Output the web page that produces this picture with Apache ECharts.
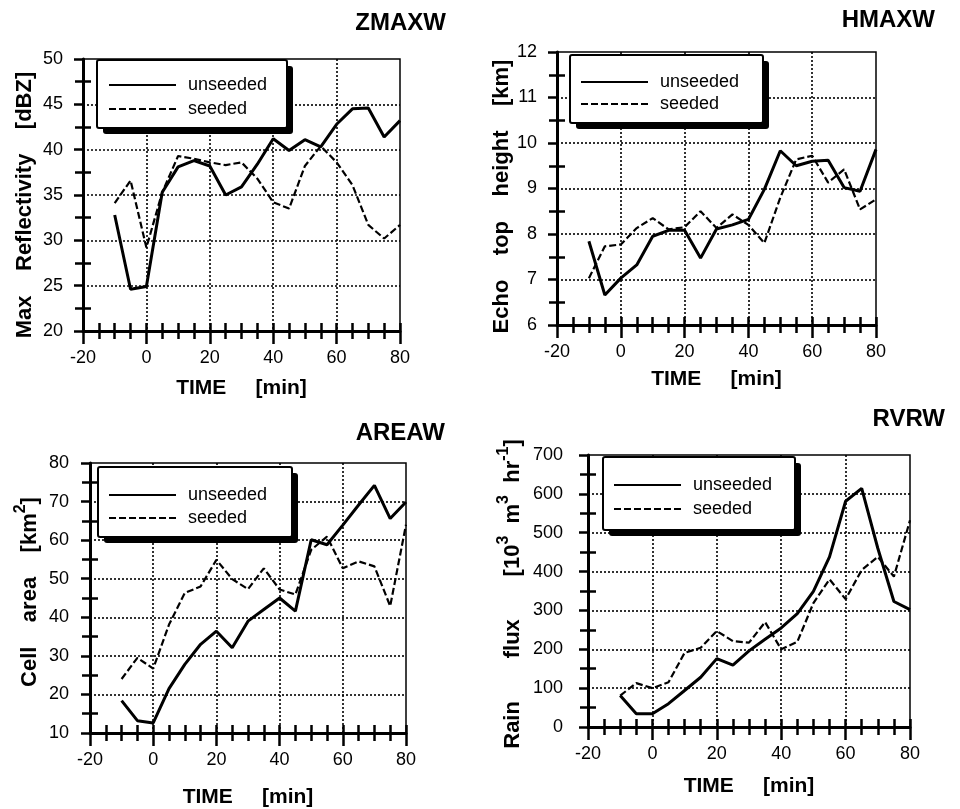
<!DOCTYPE html>
<html>
<head>
<meta charset="utf-8">
<script src="https://cdn.jsdelivr.net/npm/echarts/dist/echarts.min.js"></script>
<style>
  html, body { margin: 0; padding: 0; background: #fff; }
  #chart { width: 960px; height: 809px; }
</style>
</head>
<body>
<div id="chart"></div>
<script>
// Sample times (minutes relative to seeding)
const times = [-10, -5, 0, 5, 10, 15, 20, 25, 30, 35, 40, 45, 50, 55, 60, 65, 70, 75, 80];

// ZMAXW: maximum reflectivity [dBZ]
const zmaxUnseeded = [32.8, 24.6, 24.9, 35.3, 38.1, 38.8, 38.2, 35.0, 35.9, 38.4, 41.2, 39.9, 41.1, 40.3, 42.8, 44.5, 44.6, 41.4, 43.2];
const zmaxSeeded   = [34.1, 36.6, 29.2, 35.3, 39.3, 39.0, 38.6, 38.3, 38.6, 36.8, 34.2, 33.5, 38.2, 40.4, 38.6, 36.1, 31.7, 30.2, 31.7];

// HMAXW: echo top height [km]
const hmaxUnseeded = [7.84, 6.66, 7.03, 7.32, 7.95, 8.08, 8.08, 7.47, 8.11, 8.20, 8.32, 8.98, 9.83, 9.50, 9.60, 9.62, 9.02, 8.94, 9.86];
const hmaxSeeded   = [7.03, 7.73, 7.77, 8.13, 8.35, 8.10, 8.15, 8.50, 8.13, 8.43, 8.20, 7.80, 8.80, 9.64, 9.72, 9.13, 9.42, 8.54, 8.76];

// AREAW: cell area [km2]
const areaUnseeded = [18.4, 13.2, 12.6, 21.5, 27.8, 33.0, 36.4, 32.1, 39.0, 42.0, 45.0, 41.6, 60.1, 58.8, 63.9, 69.1, 74.2, 65.6, 69.9];
const areaSeeded   = [24.0, 29.5, 26.7, 38.1, 46.3, 48.0, 54.9, 49.9, 47.3, 52.7, 47.2, 45.9, 57.5, 60.9, 52.7, 54.5, 53.2, 42.9, 64.0];

// RVRW: rain flux [10^3 m^3 hr^-1]
const rvrUnseeded = [81, 34, 34, 60, 94, 128, 176, 159, 196, 226, 255, 292, 349, 438, 581, 614, 460, 323, 302];
const rvrSeeded   = [81, 113, 100, 115, 191, 204, 247, 221, 217, 270, 200, 219, 319, 380, 329, 404, 438, 387, 532];

// Axis ranges / tick steps
const timeAxis = { min: -20, max: 80, step: 20, minor: 5 };
const zmaxAxis = { min: 20, max: 50, step: 5 };
const hmaxAxis = { min: 6, max: 12, step: 1 };
const areaAxis = { min: 10, max: 80, step: 10 };
const rvrAxis  = { min: 0, max: 700, step: 100 };

const FONT = '"Liberation Sans", Arial, Helvetica, sans-serif';
const INK = '#000';

const panels = [
  {
    title: 'ZMAXW', titleRight: 514, titleTop: 11,
    grid: { left: 83, top: 59, width: 317, height: 272 },
    box: { x: 97, y: 60, w: 190, h: 68 }, legend: { left: 108, top: 76, gap: 6 },
    yRange: zmaxAxis, yName: 'Max    Reflectivity    [dBZ]', yGap: 47, yPad: [0, 20, 0, 0], yLabelMargin: 20,
    xGap: 47,
    unseeded: zmaxUnseeded, seeded: zmaxSeeded
  },
  {
    title: 'HMAXW', titleRight: 25, titleTop: 8,
    grid: { left: 557, top: 52, width: 319, height: 273 },
    box: { x: 570, y: 55, w: 193, h: 68 }, legend: { left: 580, top: 73, gap: 4 },
    yRange: hmaxAxis, yName: 'Echo    top    height    [km]', yGap: 41, yPad: [0, 16, 0, 0], yLabelMargin: 20,
    xGap: 44,
    unseeded: hmaxUnseeded, seeded: hmaxSeeded
  },
  {
    title: 'AREAW', titleRight: 515, titleTop: 421,
    grid: { left: 90, top: 463, width: 316, height: 274 },
    box: { x: 98, y: 467, w: 194, h: 70 }, legend: { left: 108, top: 486, gap: 5 },
    yRange: areaAxis,
    yName: '{b|Cell    area    [km}{s|2}{b|]}', yGap: 43, yPad: [0, 0, 0, 12], yLabelMargin: 21,
    xGap: 54,
    unseeded: areaUnseeded, seeded: areaSeeded
  },
  {
    title: 'RVRW', titleRight: 15, titleTop: 407,
    grid: { left: 588, top: 455, width: 322, height: 272 },
    box: { x: 603, y: 457, w: 192, h: 73 }, legend: { left: 613, top: 476, gap: 6 },
    yRange: rvrAxis,
    yName: '{b|Rain       flux       [10}{s|3}{b|  m}{s|3}{b|  hr}{s|-1}{b|]}', yGap: 58, yPad: [0, 6, 0, 0], yLabelMargin: 25,
    xGap: 49,
    unseeded: rvrUnseeded, seeded: rvrSeeded
  }
];

const tickLine = { color: INK, width: 2.5 };
const gridLine = { color: INK, width: 1.6, type: [2, 2] };
const nameRich = {
  b: { fontSize: 22, fontWeight: 'bold', fontFamily: FONT, color: INK },
  s: { fontSize: 16, fontWeight: 'bold', fontFamily: FONT, color: INK, padding: [0, 0, 18, 0] }
};

const option = {
  backgroundColor: '#fff',
  animation: false,
  title: [], grid: [], xAxis: [], yAxis: [], legend: [], series: [], graphic: []
};

panels.forEach((p, i) => {
  option.title.push({
    text: p.title, right: p.titleRight, top: p.titleTop, padding: 0,
    textStyle: { fontSize: 24, fontWeight: 'bold', color: INK, fontFamily: FONT }
  });

  option.grid.push(Object.assign({
    show: true, borderColor: INK, borderWidth: 1.5, backgroundColor: 'transparent'
  }, p.grid));

  // main time axis: labels, long ticks every 20 min, dotted grid
  option.xAxis.push({
    gridIndex: i, type: 'value', position: 'bottom',
    min: timeAxis.min, max: timeAxis.max, interval: timeAxis.step,
    axisLine: { onZero: false, lineStyle: { color: INK, width: 3 } },
    axisTick: { length: 13, lineStyle: tickLine },
    minorTick: { show: true, splitNumber: timeAxis.step / timeAxis.minor, length: 8, lineStyle: tickLine },
    axisLabel: { margin: 18, color: INK, fontSize: 18, fontFamily: FONT },
    splitLine: { show: true, showMinLine: false, showMaxLine: false, lineStyle: gridLine },
    name: 'TIME     [min]', nameLocation: 'middle', nameGap: p.xGap,
    nameTextStyle: { fontSize: 21, fontWeight: 'bold', color: INK, fontFamily: FONT }
  });
  // companion time axis: inner halves of the crossing 5-min ticks
  option.xAxis.push({
    gridIndex: i, type: 'value', position: 'bottom',
    min: timeAxis.min, max: timeAxis.max, interval: timeAxis.minor,
    axisLine: { show: false, onZero: false },
    axisTick: { inside: true, length: 8, lineStyle: tickLine },
    axisLabel: { show: false }, splitLine: { show: false }
  });

  const r = p.yRange;
  const halfTicks = [];
  for (let v = r.min + r.step / 2; v < r.max; v += r.step) halfTicks.push(v);

  option.yAxis.push({
    gridIndex: i, type: 'value', position: 'left',
    min: r.min, max: r.max, interval: r.step,
    axisLine: { onZero: false, lineStyle: { color: INK, width: 3 } },
    axisTick: { length: 9, lineStyle: tickLine },
    minorTick: { show: true, splitNumber: 2, length: 8, lineStyle: tickLine },
    axisLabel: { margin: p.yLabelMargin, color: INK, fontSize: 18, fontFamily: FONT },
    splitLine: { show: true, showMinLine: false, showMaxLine: false, lineStyle: gridLine },
    name: p.yName, nameLocation: 'middle', nameGap: p.yGap, nameRotate: 90,
    nameTextStyle: { fontSize: 22, fontWeight: 'bold', color: INK, fontFamily: FONT, padding: p.yPad, rich: nameRich }
  });
  option.yAxis.push({
    gridIndex: i, type: 'value', position: 'left',
    min: r.min, max: r.max, interval: r.step / 2,
    axisLine: { show: false, onZero: false },
    axisTick: { inside: true, length: 8, lineStyle: tickLine, customValues: halfTicks },
    axisLabel: { show: false }, splitLine: { show: false }
  });

  // legend frame with a solid drop shadow, drawn under the legend entries
  const b = p.box;
  option.graphic.push({
    type: 'rect', z: 3, silent: true,
    shape: { x: b.x + 6, y: b.y + 6, width: b.w, height: b.h, r: 3 },
    style: { fill: INK }
  });
  option.graphic.push({
    type: 'rect', z: 3, silent: true,
    shape: { x: b.x, y: b.y, width: b.w, height: b.h, r: 2 },
    style: { fill: '#fff', stroke: INK, lineWidth: 2 }
  });

  option.legend.push({
    data: ['unseeded', 'seeded'], orient: 'vertical',
    left: p.legend.left, top: p.legend.top, z: 5,
    padding: 0, itemWidth: 67, itemHeight: 14, itemGap: p.legend.gap,
    selectedMode: false,
    itemStyle: { opacity: 0, borderWidth: 0 },
    textStyle: { fontSize: 18, color: INK, fontFamily: FONT, padding: [0, 0, 0, 7] }
  });

  const pts = vals => times.map((t, k) => [t, vals[k]]);
  option.series.push({
    name: 'unseeded', type: 'line', xAxisIndex: 2 * i, yAxisIndex: 2 * i,
    data: pts(p.unseeded), symbol: 'none',
    lineStyle: { color: INK, width: 3 }, itemStyle: { color: INK }
  });
  option.series.push({
    name: 'seeded', type: 'line', xAxisIndex: 2 * i, yAxisIndex: 2 * i,
    data: pts(p.seeded), symbol: 'none',
    lineStyle: { color: INK, width: 2.2, type: [7, 3] }, itemStyle: { color: INK }
  });
});

const chart = echarts.init(document.getElementById('chart'), null, { renderer: 'canvas' });
chart.setOption(option);
</script>
</body>
</html>
